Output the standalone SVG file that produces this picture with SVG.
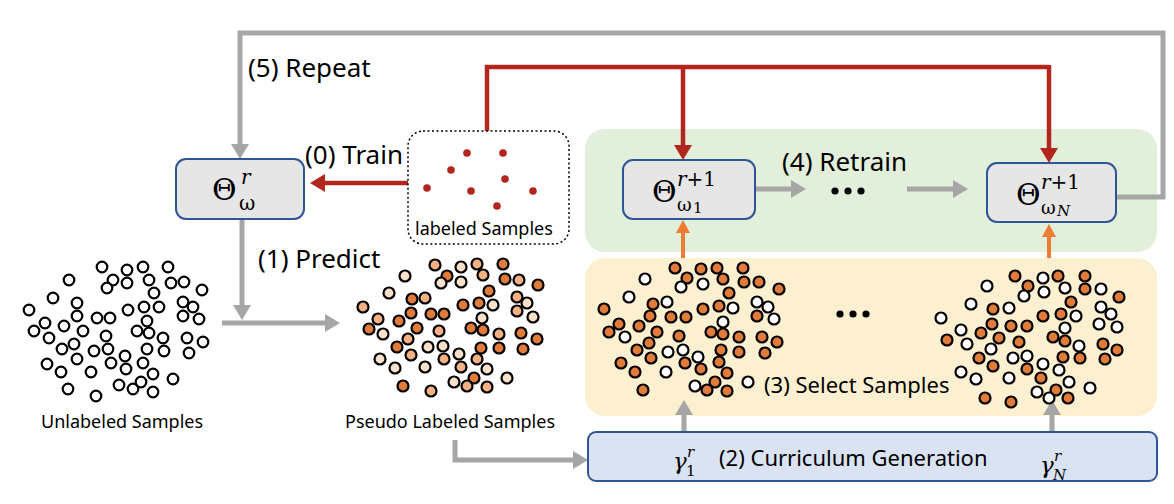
<svg xmlns="http://www.w3.org/2000/svg" width="1174" height="504" viewBox="0 0 1174 504">
<style>
.lbl{font-family:"Noto Sans","Liberation Sans",sans-serif;fill:#000}
.big{font-size:26px}
.med{font-size:22px}
.sm{font-size:18px}
.math{font-family:"DejaVu Serif","Liberation Serif",serif;fill:#000}
.it{font-style:italic}
.node{fill:#e7e6e6;stroke:#2f5597;stroke-width:2}
.gl{fill:none;stroke:#a6a6a6;stroke-width:5}
.rl{fill:none;stroke:#b3261e;stroke-width:4.5}
.ol{fill:none;stroke:#ed7d31;stroke-width:4}
.u{fill:#fff;stroke:#000;stroke-width:2.2}
.d{fill:#e07b39;stroke:#000;stroke-width:2.2}
.m{fill:#f4b183;stroke:#000;stroke-width:2.2}
.l{fill:#fbe0cc;stroke:#000;stroke-width:2.2}
.rd{fill:#b3261e}
</style>
<defs>
<marker id="ag" markerUnits="userSpaceOnUse" markerWidth="16" markerHeight="18" refX="1" refY="9" orient="auto"><path d="M0,0 L15,9 L0,18 z" fill="#a6a6a6"/></marker>
<marker id="ar" markerUnits="userSpaceOnUse" markerWidth="16" markerHeight="18" refX="1" refY="9" orient="auto"><path d="M0,0 L15,9 L0,18 z" fill="#b3261e"/></marker>
<marker id="ao" markerUnits="userSpaceOnUse" markerWidth="14" markerHeight="14" refX="1" refY="7" orient="auto"><path d="M0,0 L13,7 L0,14 z" fill="#ed7d31"/></marker>
</defs>

<!-- panels -->
<g id="panel-retrain"><rect x="585" y="129" width="572" height="123" rx="20" fill="#e2efda"/></g>
<g id="panel-select"><rect x="585" y="258" width="572" height="158" rx="20" fill="#fdf0d0"/></g>

<!-- connectors -->
<g id="connectors">
<path class="gl" d="M1116,197 H1163 V33 H240 V145" marker-end="url(#ag)"/>
<path class="rl" d="M487,131 V67 H1049"/>
<path class="rl" d="M683,67 V146" marker-end="url(#ar)"/>
<path class="rl" d="M1049,65 V149" marker-end="url(#ar)"/>
<path class="rl" d="M408,183 H324" marker-end="url(#ar)"/>
<path class="gl" d="M242,219 V306" marker-end="url(#ag)"/>
<path class="gl" d="M222,323 H326" marker-end="url(#ag)"/>
<path class="gl" d="M455,440 V460 H574" marker-end="url(#ag)"/>
<path class="gl" d="M756,189 H792" marker-end="url(#ag)"/>
<path class="gl" d="M907,189 H954" marker-end="url(#ag)"/>
<path class="ol" d="M683,258 V232" marker-end="url(#ao)"/>
<path class="ol" d="M1049,258 V236" marker-end="url(#ao)"/>
<path class="gl" d="M684,450 V414" marker-end="url(#ag)"/>
<path class="gl" d="M1052,455 V414" marker-end="url(#ag)"/>
</g>

<text class="lbl big" x="248" y="77">(5) Repeat</text>
<text class="lbl big" x="305" y="164">(0) Train</text>
<text class="lbl big" x="258" y="268">(1) Predict</text>
<text class="lbl big" x="782" y="171">(4) Retrain</text>

<!-- Theta r node -->
<g id="theta-r">
<rect class="node" x="176" y="159" width="128" height="60" rx="10"/>
<text class="math" x="212" y="200" font-size="30">Θ<tspan class="it" x="241" y="184" font-size="20">r</tspan><tspan x="239" y="210" font-size="20">ω</tspan></text>
</g>

<!-- labeled samples -->
<g id="labeled">
<rect x="408" y="131" width="161" height="113" rx="15" fill="#fff" stroke="#000" stroke-width="1.5" stroke-dasharray="2,2.5"/>
<circle class="rd" cx="467" cy="153" r="3.8"/><circle class="rd" cx="503" cy="153" r="3.8"/>
<circle class="rd" cx="451" cy="170" r="3.8"/><circle class="rd" cx="505" cy="179" r="3.8"/>
<circle class="rd" cx="427" cy="188" r="3.8"/><circle class="rd" cx="471" cy="191" r="3.8"/>
<circle class="rd" cx="533" cy="191" r="3.8"/><circle class="rd" cx="497" cy="206" r="3.8"/>
<text class="lbl sm" x="415" y="235">labeled Samples</text>
</g>

<!-- Theta 1 -->
<g id="theta-1">
<rect class="node" x="623" y="160" width="132" height="59" rx="10"/>
<text class="math" x="652" y="202" font-size="30">Θ<tspan x="677" y="186" font-size="20"><tspan class="it">r</tspan>+1</tspan><tspan x="677" y="211" font-size="18">ω</tspan><tspan x="693" y="213" font-size="15">1</tspan></text>
</g>

<g id="dots-retrain"><circle cx="835" cy="191" r="3.6"/><circle cx="848" cy="191" r="3.6"/><circle cx="861" cy="191" r="3.6"/></g>

<!-- Theta N -->
<g id="theta-N">
<rect class="node" x="987" y="163" width="129" height="59" rx="10"/>
<text class="math" x="1016" y="205" font-size="30">Θ<tspan x="1041" y="189" font-size="20"><tspan class="it">r</tspan>+1</tspan><tspan x="1041" y="214" font-size="18">ω</tspan><tspan class="it" x="1057" y="216" font-size="15">N</tspan></text>
</g>

<!-- Unlabeled samples -->
<g id="unlabeled">
<circle class="u" r="5.3" cx="102" cy="267"/><circle class="u" r="5.3" cx="127" cy="270"/><circle class="u" r="5.3" cx="143" cy="267"/><circle class="u" r="5.3" cx="168" cy="267"/>
<circle class="u" r="5.3" cx="69" cy="280"/><circle class="u" r="5.3" cx="113" cy="280"/><circle class="u" r="5.3" cx="107" cy="288"/><circle class="u" r="5.3" cx="127" cy="283"/>
<circle class="u" r="5.3" cx="149" cy="280"/><circle class="u" r="5.3" cx="171" cy="283"/><circle class="u" r="5.3" cx="184" cy="282"/><circle class="u" r="5.3" cx="202" cy="290"/>
<circle class="u" r="5.3" cx="154" cy="293"/><circle class="u" r="5.3" cx="53" cy="298"/><circle class="u" r="5.3" cx="77" cy="303"/><circle class="u" r="5.3" cx="183" cy="302"/>
<circle class="u" r="5.3" cx="193" cy="307"/><circle class="u" r="5.3" cx="29" cy="310"/><circle class="u" r="5.3" cx="128" cy="310"/><circle class="u" r="5.3" cx="144" cy="307"/>
<circle class="u" r="5.3" cx="159" cy="307"/><circle class="u" r="5.3" cx="77" cy="316"/><circle class="u" r="5.3" cx="97" cy="318"/><circle class="u" r="5.3" cx="110" cy="318"/>
<circle class="u" r="5.3" cx="183" cy="316"/><circle class="u" r="5.3" cx="199" cy="319"/><circle class="u" r="5.3" cx="147" cy="321"/><circle class="u" r="5.3" cx="45" cy="323"/>
<circle class="u" r="5.3" cx="64" cy="326"/><circle class="u" r="5.3" cx="34" cy="331"/><circle class="u" r="5.3" cx="49" cy="338"/><circle class="u" r="5.3" cx="83" cy="331"/>
<circle class="u" r="5.3" cx="106" cy="336"/><circle class="u" r="5.3" cx="137" cy="331"/><circle class="u" r="5.3" cx="149" cy="333"/><circle class="u" r="5.3" cx="163" cy="338"/>
<circle class="u" r="5.3" cx="187" cy="338"/><circle class="u" r="5.3" cx="203" cy="342"/><circle class="u" r="5.3" cx="74" cy="344"/><circle class="u" r="5.3" cx="62" cy="349"/>
<circle class="u" r="5.3" cx="94" cy="351"/><circle class="u" r="5.3" cx="108" cy="349"/><circle class="u" r="5.3" cx="147" cy="349"/><circle class="u" r="5.3" cx="164" cy="351"/>
<circle class="u" r="5.3" cx="189" cy="353"/><circle class="u" r="5.3" cx="125" cy="356"/><circle class="u" r="5.3" cx="77" cy="359"/><circle class="u" r="5.3" cx="47" cy="364"/>
<circle class="u" r="5.3" cx="111" cy="363"/><circle class="u" r="5.3" cx="143" cy="363"/><circle class="u" r="5.3" cx="61" cy="372"/><circle class="u" r="5.3" cx="91" cy="372"/>
<circle class="u" r="5.3" cx="126" cy="369"/><circle class="u" r="5.3" cx="153" cy="374"/><circle class="u" r="5.3" cx="173" cy="379"/><circle class="u" r="5.3" cx="119" cy="385"/>
<circle class="u" r="5.3" cx="133" cy="389"/><circle class="u" r="5.3" cx="141" cy="382"/><circle class="u" r="5.3" cx="68" cy="389"/><circle class="u" r="5.3" cx="96" cy="396"/>
<circle class="u" r="5.3" cx="153" cy="392"/>
<text class="lbl sm" x="41" y="428">Unlabeled Samples</text>
</g>

<!-- Pseudo labeled samples -->
<g id="pseudo">
<circle class="m" r="5.5" cx="435" cy="265"/><circle class="l" r="5.5" cx="461" cy="267"/><circle class="m" r="5.5" cx="477" cy="264"/><circle class="d" r="5.5" cx="503" cy="264"/>
<circle class="l" r="5.5" cx="405" cy="276"/><circle class="d" r="5.5" cx="447" cy="276"/><circle class="m" r="5.5" cx="483" cy="275"/><circle class="l" r="5.5" cx="441" cy="283"/>
<circle class="l" r="5.5" cx="461" cy="282"/><circle class="d" r="5.5" cx="505" cy="279"/><circle class="m" r="5.5" cx="519" cy="280"/><circle class="d" r="5.5" cx="538" cy="285"/>
<circle class="d" r="5.5" cx="489" cy="291"/><circle class="l" r="5.5" cx="389" cy="293"/><circle class="d" r="5.5" cx="412" cy="299"/><circle class="m" r="5.5" cx="425" cy="298"/>
<circle class="d" r="5.5" cx="463" cy="305"/><circle class="d" r="5.5" cx="479" cy="303"/><circle class="l" r="5.5" cx="493" cy="305"/><circle class="m" r="5.5" cx="517" cy="297"/>
<circle class="l" r="5.5" cx="527" cy="303"/><circle class="m" r="5.5" cx="363" cy="307"/><circle class="m" r="5.5" cx="517" cy="311"/><circle class="l" r="5.5" cx="533" cy="317"/>
<circle class="d" r="5.5" cx="411" cy="313"/><circle class="d" r="5.5" cx="431" cy="314"/><circle class="d" r="5.5" cx="444" cy="314"/><circle class="l" r="5.5" cx="482" cy="318"/>
<circle class="m" r="5.5" cx="378" cy="319"/><circle class="d" r="5.5" cx="399" cy="321"/><circle class="d" r="5.5" cx="369" cy="329"/><circle class="d" r="5.5" cx="417" cy="328"/>
<circle class="m" r="5.5" cx="439" cy="331"/><circle class="d" r="5.5" cx="471" cy="328"/><circle class="d" r="5.5" cx="483" cy="330"/><circle class="m" r="5.5" cx="499" cy="334"/>
<circle class="l" r="5.5" cx="383" cy="334"/><circle class="d" r="5.5" cx="521" cy="333"/><circle class="d" r="5.5" cx="537" cy="339"/><circle class="m" r="5.5" cx="408" cy="339"/>
<circle class="d" r="5.5" cx="397" cy="347"/><circle class="l" r="5.5" cx="428" cy="347"/><circle class="l" r="5.5" cx="443" cy="346"/><circle class="d" r="5.5" cx="481" cy="348"/>
<circle class="d" r="5.5" cx="499" cy="348"/><circle class="d" r="5.5" cx="523" cy="349"/><circle class="m" r="5.5" cx="411" cy="355"/><circle class="m" r="5.5" cx="444" cy="359"/>
<circle class="l" r="5.5" cx="459" cy="354"/><circle class="m" r="5.5" cx="477" cy="359"/><circle class="l" r="5.5" cx="380" cy="359"/><circle class="l" r="5.5" cx="395" cy="368"/>
<circle class="l" r="5.5" cx="425" cy="367"/><circle class="m" r="5.5" cx="461" cy="367"/><circle class="l" r="5.5" cx="487" cy="369"/><circle class="d" r="5.5" cx="474" cy="378"/>
<circle class="l" r="5.5" cx="507" cy="378"/><circle class="l" r="5.5" cx="454" cy="382"/><circle class="m" r="5.5" cx="467" cy="386"/><circle class="d" r="5.5" cx="403" cy="386"/>
<circle class="m" r="5.5" cx="487" cy="387"/><circle class="m" r="5.5" cx="431" cy="391"/>
<text class="lbl sm" x="345" y="428">Pseudo Labeled Samples</text>
</g>

<!-- Selected samples 1 -->
<g id="select-1">
<circle class="d" r="5.5" cx="675" cy="268"/><circle class="d" r="5.5" cx="701" cy="269"/><circle class="d" r="5.5" cx="717" cy="268"/><circle class="d" r="5.5" cx="743" cy="268"/>
<circle class="u" r="5.5" cx="645" cy="279"/><circle class="d" r="5.5" cx="687" cy="278"/><circle class="d" r="5.5" cx="723" cy="279"/><circle class="d" r="5.5" cx="744" cy="282"/>
<circle class="d" r="5.5" cx="759" cy="282"/><circle class="u" r="5.5" cx="681" cy="287"/><circle class="u" r="5.5" cx="703" cy="284"/><circle class="d" r="5.5" cx="779" cy="289"/>
<circle class="d" r="5.5" cx="729" cy="293"/><circle class="u" r="5.5" cx="629" cy="297"/><circle class="u" r="5.5" cx="667" cy="302"/><circle class="d" r="5.5" cx="653" cy="304"/>
<circle class="u" r="5.5" cx="757" cy="302"/><circle class="d" r="5.5" cx="604" cy="309"/><circle class="d" r="5.5" cx="703" cy="309"/><circle class="d" r="5.5" cx="719" cy="306"/>
<circle class="u" r="5.5" cx="733" cy="308"/><circle class="u" r="5.5" cx="768" cy="307"/><circle class="d" r="5.5" cx="650" cy="316"/><circle class="d" r="5.5" cx="671" cy="317"/>
<circle class="d" r="5.5" cx="686" cy="317"/><circle class="d" r="5.5" cx="757" cy="316"/><circle class="u" r="5.5" cx="774" cy="319"/><circle class="u" r="5.5" cx="723" cy="322"/>
<circle class="d" r="5.5" cx="619" cy="324"/><circle class="d" r="5.5" cx="639" cy="326"/><circle class="d" r="5.5" cx="609" cy="332"/><circle class="d" r="5.5" cx="657" cy="332"/>
<circle class="d" r="5.5" cx="711" cy="332"/><circle class="d" r="5.5" cx="723" cy="334"/><circle class="d" r="5.5" cx="679" cy="336"/><circle class="d" r="5.5" cx="739" cy="337"/>
<circle class="d" r="5.5" cx="762" cy="337"/><circle class="u" r="5.5" cx="625" cy="337"/><circle class="d" r="5.5" cx="777" cy="342"/><circle class="d" r="5.5" cx="649" cy="343"/>
<circle class="d" r="5.5" cx="637" cy="350"/><circle class="u" r="5.5" cx="668" cy="352"/><circle class="u" r="5.5" cx="683" cy="350"/><circle class="d" r="5.5" cx="721" cy="350"/>
<circle class="d" r="5.5" cx="739" cy="352"/><circle class="d" r="5.5" cx="765" cy="353"/><circle class="d" r="5.5" cx="651" cy="358"/><circle class="u" r="5.5" cx="698" cy="357"/>
<circle class="d" r="5.5" cx="621" cy="363"/><circle class="d" r="5.5" cx="685" cy="363"/><circle class="d" r="5.5" cx="719" cy="362"/><circle class="d" r="5.5" cx="701" cy="369"/>
<circle class="d" r="5.5" cx="635" cy="372"/><circle class="u" r="5.5" cx="666" cy="372"/><circle class="d" r="5.5" cx="727" cy="373"/><circle class="d" r="5.5" cx="715" cy="382"/>
<circle class="u" r="5.5" cx="748" cy="382"/><circle class="u" r="5.5" cx="695" cy="386"/><circle class="d" r="5.5" cx="707" cy="390"/><circle class="d" r="5.5" cx="727" cy="391"/>
<circle class="d" r="5.5" cx="643" cy="390"/>
</g>

<g id="dots-select"><circle cx="840" cy="314" r="3.6"/><circle cx="853" cy="314" r="3.6"/><circle cx="866" cy="314" r="3.6"/></g>
<text class="lbl med" x="764" y="393">(3) Select Samples</text>

<!-- Selected samples N -->
<g id="select-N">
<circle class="d" r="5.5" cx="1015" cy="276"/><circle class="u" r="5.5" cx="1043" cy="278"/><circle class="d" r="5.5" cx="1058" cy="276"/><circle class="d" r="5.5" cx="1085" cy="276"/>
<circle class="u" r="5.5" cx="987" cy="286"/><circle class="d" r="5.5" cx="1028" cy="286"/><circle class="u" r="5.5" cx="1044" cy="292"/><circle class="u" r="5.5" cx="1065" cy="288"/>
<circle class="d" r="5.5" cx="1085" cy="289"/><circle class="u" r="5.5" cx="1101" cy="289"/><circle class="d" r="5.5" cx="1119" cy="297"/><circle class="u" r="5.5" cx="1024" cy="296"/>
<circle class="u" r="5.5" cx="971" cy="304"/><circle class="d" r="5.5" cx="1071" cy="302"/><circle class="d" r="5.5" cx="993" cy="309"/><circle class="u" r="5.5" cx="1009" cy="308"/>
<circle class="u" r="5.5" cx="1101" cy="307"/><circle class="u" r="5.5" cx="1111" cy="314"/><circle class="u" r="5.5" cx="941" cy="318"/><circle class="d" r="5.5" cx="1043" cy="316"/>
<circle class="d" r="5.5" cx="1061" cy="314"/><circle class="u" r="5.5" cx="1076" cy="316"/><circle class="d" r="5.5" cx="992" cy="324"/><circle class="d" r="5.5" cx="1011" cy="326"/>
<circle class="d" r="5.5" cx="1027" cy="326"/><circle class="u" r="5.5" cx="1099" cy="324"/><circle class="u" r="5.5" cx="1117" cy="327"/><circle class="u" r="5.5" cx="1065" cy="328"/>
<circle class="u" r="5.5" cx="961" cy="330"/><circle class="d" r="5.5" cx="981" cy="333"/><circle class="d" r="5.5" cx="999" cy="338"/><circle class="d" r="5.5" cx="1053" cy="337"/>
<circle class="d" r="5.5" cx="1065" cy="341"/><circle class="d" r="5.5" cx="947" cy="340"/><circle class="d" r="5.5" cx="1019" cy="342"/><circle class="u" r="5.5" cx="967" cy="344"/>
<circle class="u" r="5.5" cx="991" cy="349"/><circle class="u" r="5.5" cx="1079" cy="346"/><circle class="d" r="5.5" cx="1103" cy="344"/><circle class="d" r="5.5" cx="1117" cy="350"/>
<circle class="d" r="5.5" cx="979" cy="358"/><circle class="u" r="5.5" cx="1013" cy="358"/><circle class="u" r="5.5" cx="1027" cy="356"/><circle class="d" r="5.5" cx="1063" cy="357"/>
<circle class="d" r="5.5" cx="1080" cy="358"/><circle class="d" r="5.5" cx="1105" cy="359"/><circle class="d" r="5.5" cx="993" cy="366"/><circle class="u" r="5.5" cx="1043" cy="364"/>
<circle class="d" r="5.5" cx="1027" cy="369"/><circle class="u" r="5.5" cx="1059" cy="370"/><circle class="u" r="5.5" cx="961" cy="372"/><circle class="u" r="5.5" cx="976" cy="379"/>
<circle class="u" r="5.5" cx="1009" cy="378"/><circle class="d" r="5.5" cx="1041" cy="378"/><circle class="u" r="5.5" cx="1069" cy="382"/><circle class="u" r="5.5" cx="1090" cy="388"/>
<circle class="u" r="5.5" cx="1037" cy="392"/><circle class="d" r="5.5" cx="1056" cy="390"/><circle class="d" r="5.5" cx="985" cy="398"/><circle class="d" r="5.5" cx="1011" cy="402"/>
<circle class="u" r="5.5" cx="1049" cy="398"/><circle class="d" r="5.5" cx="1068" cy="398"/>
</g>

<!-- Curriculum generation -->
<g id="curriculum">
<rect x="588" y="432" width="569" height="49" rx="8" fill="#dae3f3" stroke="#2f5597" stroke-width="2"/>
<text class="math it" x="673" y="469" font-size="23">γ<tspan x="687" y="457" font-size="15">r</tspan><tspan style="font-style:normal" x="686" y="476" font-size="15">1</tspan></text>
<text class="lbl med" x="719" y="466">(2) Curriculum Generation</text>
<text class="math it" x="1040" y="473" font-size="23">γ<tspan x="1054" y="461" font-size="15">r</tspan><tspan x="1053" y="480" font-size="15">N</tspan></text>
</g>
</svg>
